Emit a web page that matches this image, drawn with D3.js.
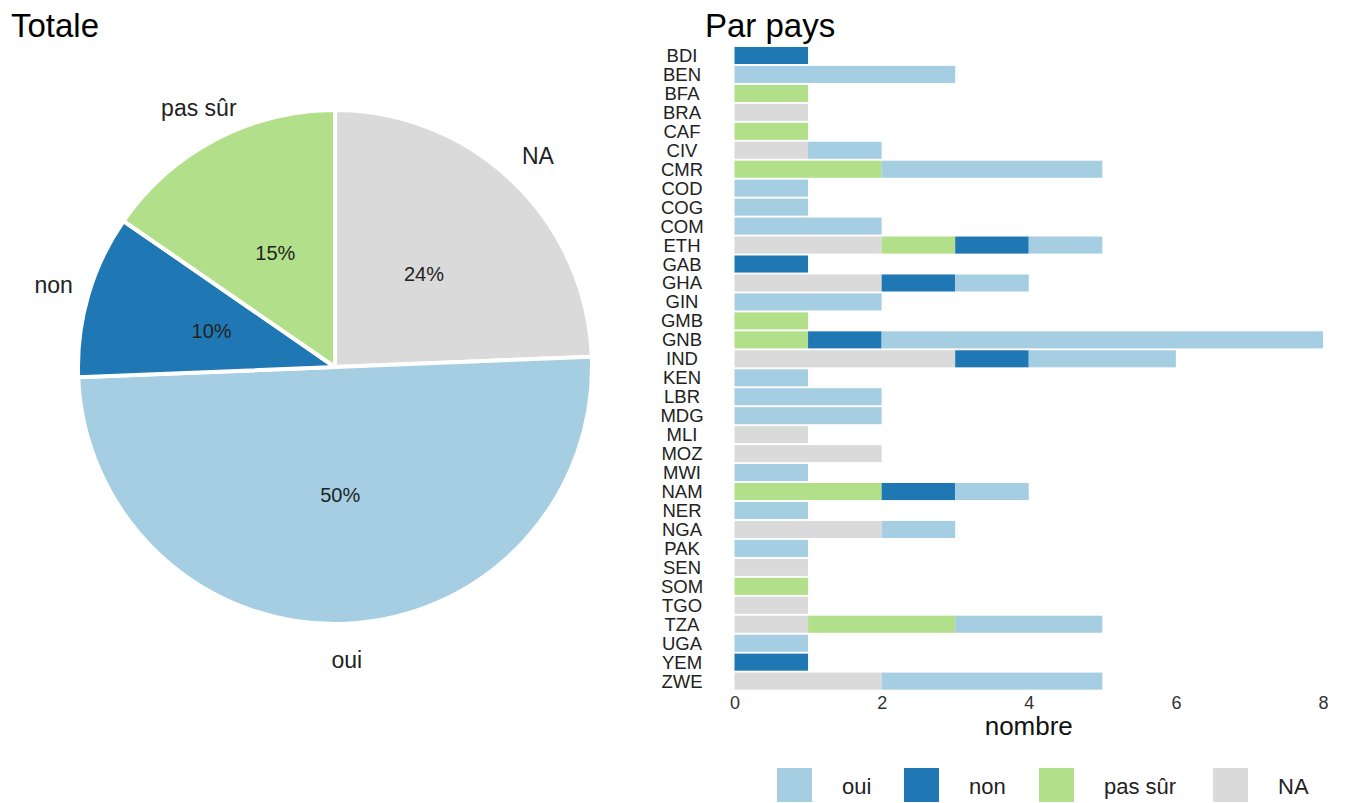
<!DOCTYPE html>
<html>
<head>
<meta charset="utf-8">
<script src="https://cdn.jsdelivr.net/npm/d3@7"></script>
<style>
  html, body { margin: 0; padding: 0; background: #fff; }
  svg { display: block; font-family: "Liberation Sans", Arial, sans-serif; }
</style>
</head>
<body>
<svg id="chart" width="1345" height="803"></svg>
<script>
// ---- data ----
const countries = ["BDI","BEN","BFA","BRA","CAF","CIV","CMR","COD","COG","COM","ETH","GAB","GHA","GIN","GMB","GNB","IND","KEN","LBR","MDG","MLI","MOZ","MWI","NAM","NER","NGA","PAK","SEN","SOM","TGO","TZA","UGA","YEM","ZWE"];
const oui    = [0,3,0,0,0,1,3,1,1,2,1,0,1,2,0,6,2,1,2,2,0,0,1,1,1,1,1,0,0,0,2,1,0,3];
const non    = [1,0,0,0,0,0,0,0,0,0,1,1,1,0,0,1,1,0,0,0,0,0,0,1,0,0,0,0,0,0,0,0,1,0];
const pasSur = [0,0,1,0,1,0,2,0,0,0,1,0,0,0,1,1,0,0,0,0,0,0,0,2,0,0,0,0,1,0,2,0,0,0];
const na     = [0,0,0,1,0,1,0,0,0,0,2,0,2,0,0,0,3,0,0,0,1,2,0,0,0,2,0,1,0,1,1,0,0,2];
const categories = ["oui","non","pas sûr","NA"];
const colors = ["#a6cee3","#1f78b4","#b2df8a","#dadada"];
const xTicks = [0,2,4,6,8];

const series = {"oui": oui, "non": non, "pas sûr": pasSur, "NA": na};
const color = d3.scaleOrdinal().domain(categories).range(colors);
const svg = d3.select("#chart");

// ---- titles ----
svg.append("text").attr("x", 11).attr("y", 37).attr("font-size", 33).attr("fill", "#000").text("Totale");
svg.append("text").attr("x", 705).attr("y", 37).attr("font-size", 33).attr("fill", "#000").text("Par pays");

// ---- pie ----
const pieOrder = ["NA","oui","non","pas sûr"];
const totals = pieOrder.map(k => ({key: k, value: d3.sum(series[k])}));
const grand = d3.sum(totals, d => d.value);
const cx = 335, cy = 367, R = 257;
const pie = d3.pie().sort(null).value(d => d.value);
const arcs = pie(totals);
const arc = d3.arc().innerRadius(0).outerRadius(R);
const g = svg.append("g").attr("transform", `translate(${cx},${cy})`);
g.selectAll("path").data(arcs).join("path")
  .attr("d", arc).attr("fill", d => color(d.data.key))
  .attr("stroke", "#fff").attr("stroke-width", 4).attr("stroke-linejoin", "round");
const midArc = d3.arc().innerRadius(R * 0.5).outerRadius(R * 0.5);
const outArc = d3.arc().innerRadius(293).outerRadius(293);
g.selectAll("text.pct").data(arcs).join("text")
  .attr("class", "pct")
  .attr("transform", d => { const c = midArc.centroid(d); return `translate(${c[0]},${c[1]})`; })
  .attr("text-anchor", "middle").attr("dominant-baseline", "central")
  .attr("font-size", 20).attr("fill", "#222")
  .text(d => Math.round(d.data.value / grand * 100) + "%");
g.selectAll("text.lab").data(arcs).join("text")
  .attr("class", "lab")
  .attr("transform", d => { const c = outArc.centroid(d); return `translate(${c[0]},${c[1]})`; })
  .attr("text-anchor", "middle").attr("dominant-baseline", "central")
  .attr("font-size", 23).attr("fill", "#222")
  .text(d => d.data.key);

// ---- stacked bars ----
const stackOrder = ["NA","pas sûr","non","oui"];
const rows = countries.map((c, i) => {
  const o = {country: c};
  categories.forEach(k => o[k] = series[k][i]);
  return o;
});
const stacked = d3.stack().keys(stackOrder)(rows);
const x = d3.scaleLinear().domain([0, 8]).range([734.5, 1323]);
const y = d3.scaleBand().domain(countries).range([46, 690.6]).paddingInner(0.1).paddingOuter(0.05);

svg.append("g").selectAll("g").data(stacked).join("g")
  .attr("fill", d => color(d.key))
  .selectAll("rect").data(d => d.filter(s => s[1] > s[0])).join("rect")
  .attr("x", d => x(d[0])).attr("width", d => x(d[1]) - x(d[0]))
  .attr("y", d => y(d.data.country)).attr("height", y.bandwidth());

// y labels
svg.append("g").selectAll("text").data(countries).join("text")
  .attr("x", 682).attr("y", d => y(d) + y.bandwidth() / 2)
  .attr("text-anchor", "middle").attr("dominant-baseline", "central")
  .attr("font-size", 18.5).attr("fill", "#222").text(d => d);

// x axis (no line, no ticks)
const xAxis = svg.append("g").attr("transform", "translate(0,692)")
  .call(d3.axisBottom(x).tickValues(xTicks).tickSize(0).tickPadding(4).tickFormat(d3.format("d")));
xAxis.attr("font-size", null).attr("font-family", null);
xAxis.select(".domain").remove();
xAxis.selectAll("text").style("font-size", "18px").style("fill", "#333");

svg.append("text").attr("x", (x(0) + x(8)) / 2).attr("y", 735)
  .attr("text-anchor", "middle").attr("font-size", 26).attr("fill", "#111").text("nombre");

// ---- legend ----
const legX = [777, 904, 1039, 1213];
const leg = svg.append("g");
categories.forEach((k, i) => {
  leg.append("rect").attr("x", legX[i]).attr("y", 768).attr("width", 35).attr("height", 34).attr("fill", color(k));
  leg.append("text").attr("x", legX[i] + 35 + 30).attr("y", 794)
    .attr("font-size", 22).attr("fill", "#222").text(k);
});
</script>
</body>
</html>
